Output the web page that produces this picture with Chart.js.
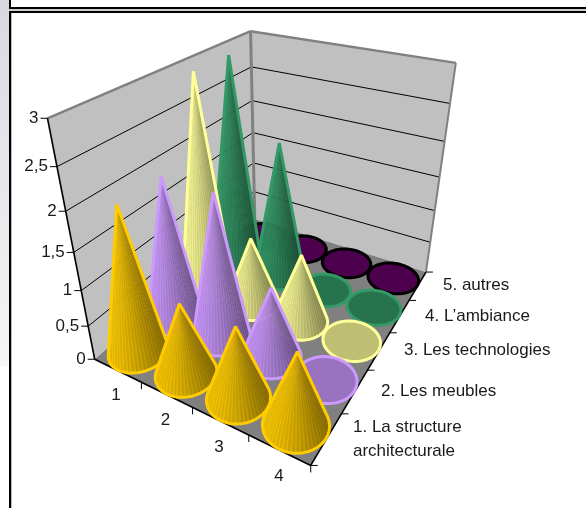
<!DOCTYPE html>
<html>
<head>
<meta charset="utf-8">
<style>
html,body{margin:0;padding:0;background:#fff;overflow:hidden}
canvas{display:block}
</style>
<script src="https://cdn.jsdelivr.net/npm/chart.js@4"></script>
</head>
<body>
<div style="width:586px;height:508px"><canvas id="c" width="586" height="508"></canvas></div>
<script>
const categories = ['1', '2', '3', '4'];
const seriesNames = ['1. La structure architecturale', '2. Les meubles', '3. Les technologies', '4. L’ambiance', '5. autres'];
const valueTicks = [0, 0.5, 1, 1.5, 2, 2.5, 3];
const structure = [2, 1, 1, 1];
const meubles = [2, 2, 1, 0];
const technologies = [3, 1, 1, 0];
const ambiance = [3, 2, 0, 0];
const autres = [0, 0, 0, 0];
const seriesValues = [structure, meubles, technologies, ambiance, autres];
const outlineColors = ['#FFCC00', '#CC99FF', '#FFFF99', '#339966', '#000000'];
const baseColors = ['#FFCC00', '#CC99FF', '#FFFF99', '#339966', '#660066'];

/* camera calibration: [u, v, w, px, py] read from the box corners */
const calib = [
  [0,0,0,94,359],[1,0,0,311,466],[1,1,0,426,271],[0,1,0,256,220],
  [0,0,1,48,119],[0,1,1,250,31],[1,1,1,457,63],
  [0,0,1/3,81,290],[0,0,2/3,66,211],[1,1,1/3,434,211],[1,1,2/3,444,141.7],
  [0,1,1/3,253,163],[0,1,2/3,252,100]
];
function solve(A,b){const n=b.length;for(let i=0;i<n;i++){let m=i;for(let r=i+1;r<n;r++)if(Math.abs(A[r][i])>Math.abs(A[m][i]))m=r;[A[i],A[m]]=[A[m],A[i]];[b[i],b[m]]=[b[m],b[i]];for(let r=i+1;r<n;r++){const f=A[r][i]/A[i][i];for(let c=i;c<n;c++)A[r][c]-=f*A[i][c];b[r]-=f*b[i];}}const x=new Array(n);for(let i=n-1;i>=0;i--){let s=b[i];for(let c=i+1;c<n;c++)s-=A[i][c]*x[c];x[i]=s/A[i][i];}return x;}
function calibrate(){const k=500,N=Array.from({length:11},()=>new Array(11).fill(0)),B=new Array(11).fill(0);
  const add=(row,y)=>{for(let i=0;i<11;i++){B[i]+=row[i]*y;for(let j=0;j<11;j++)N[i][j]+=row[i]*row[j];}};
  for(const [u,v,w,px,py] of calib){const x=px/k,y=py/k;
    add([u,v,w,1,0,0,0,0,-x*u,-x*v,-x*w],x);
    add([0,0,0,0,u,v,w,1,-y*u,-y*v,-y*w],y);}
  const p=solve(N,B);
  return (u,v,w)=>{const d=p[8]*u+p[9]*v+p[10]*w+1;return {x:k*(p[0]*u+p[1]*v+p[2]*w+p[3])/d,y:k*(p[4]*u+p[5]*v+p[6]*w+p[7])/d};};
}
const project = calibrate();

const FONT = '17px "Liberation Sans", Arial, sans-serif';
const LEFT_LABEL_GAP = 9;
const catLabelPos = [[116,395.5],[165.5,420],[219,447],[279,476]];
const seriesLabelPos = [[[353,427],[353,451]],[[381,391]],[[404,350]],[[425,316]],[[443,285]]];
const RADIUS = 0.49, FACETS = 96;

function rgb(hex,f){const n=parseInt(hex.slice(1),16);const c=[n>>16,(n>>8)&255,n&255].map(v=>Math.min(255,Math.round(v*f)));return `rgb(${c[0]},${c[1]},${c[2]})`;}
function poly(ctx,pts){ctx.beginPath();pts.forEach((p,i)=>i?ctx.lineTo(p.x,p.y):ctx.moveTo(p.x,p.y));ctx.closePath();}
function seg(ctx,a,b,color,w){ctx.strokeStyle=color;ctx.lineWidth=w;ctx.beginPath();ctx.moveTo(a.x,a.y);ctx.lineTo(b.x,b.y);ctx.stroke();}
function frac(s,v){const a=s.getPixelForValue(s.min),b=s.getPixelForValue(s.max);return (s.getPixelForValue(v)-a)/(b-a);}
function shade(t){return 0.93-0.40*Math.pow(t,1.5);}

function hull(points){const s=points.slice().sort((a,b)=>a.x-b.x||a.y-b.y);const cr=(o,a,b)=>(a.x-o.x)*(b.y-o.y)-(a.y-o.y)*(b.x-o.x);const lo=[],up=[];
  for(const p of s){while(lo.length>1&&cr(lo[lo.length-2],lo[lo.length-1],p)<=0)lo.pop();lo.push(p);}
  for(const p of s.slice().reverse()){while(up.length>1&&cr(up[up.length-2],up[up.length-1],p)<=0)up.pop();up.push(p);}
  return lo.slice(0,-1).concat(up.slice(0,-1));}

const cone3d = {
  id:'cone3d',
  beforeDraw(chart){
    const ctx=chart.ctx,W=chart.width,H=chart.height;
    ctx.save();
    ctx.fillStyle='#fff';ctx.fillRect(0,0,W,H);
    const g=ctx.createLinearGradient(0,0,0,366);g.addColorStop(0,'#D8D8E0');g.addColorStop(1,'#F6F6F7');
    ctx.fillStyle=g;ctx.fillRect(0,0,9,366);
    ctx.fillStyle='#000';ctx.fillRect(9,0,2,H);
    ctx.fillStyle='#bbb';ctx.fillRect(11,12,1,H-12);
    ctx.fillStyle='#000';ctx.fillRect(9,7,W-9,2);
    ctx.fillStyle='#ccc';ctx.fillRect(9,9,W-9,2);
    ctx.fillStyle='#000';ctx.fillRect(9,11,W-9,2);
    ctx.restore();
  },
  afterDatasetsDraw(chart){
    const ctx=chart.ctx,sx=chart.scales.x,sy=chart.scales.y,sz=chart.scales.depth;
    const P=(cat,ser,val)=>project(frac(sx,cat),frac(sz,ser),frac(sy,val));
    const nc=categories.length,ns=seriesNames.length,top=valueTicks[valueTicks.length-1];
    const A=P(0,0,0),B=P(nc,0,0),C=P(nc,ns,0),D=P(0,ns,0),A3=P(0,0,top),C3=P(nc,ns,top),D3=P(0,ns,top);
    ctx.save();ctx.lineCap='butt';ctx.lineJoin='miter';
    /* walls + floor */
    ctx.fillStyle='#C0C0C0';poly(ctx,[A,D,D3,A3]);ctx.fill();poly(ctx,[D,C,C3,D3]);ctx.fill();
    ctx.fillStyle='#808080';poly(ctx,[A,B,C,D]);ctx.fill();
    /* gridlines */
    for(const t of valueTicks){ if(t===0||t===top)continue;
      const a=P(0,0,t),d=P(0,ns,t),c=P(nc,ns,t);
      seg(ctx,a,d,'#000',1);seg(ctx,d,c,'#000',1);
    }
    /* wall borders */
    seg(ctx,D,D3,'#808080',3);seg(ctx,C,C3,'#808080',2);
    seg(ctx,A3,D3,'#808080',2.5);seg(ctx,D3,C3,'#808080',2.5);
    /* axes */
    seg(ctx,A,A3,'#000',1.6);seg(ctx,A,B,'#000',1.6);seg(ctx,B,C,'#000',1.6);
    ctx.font=FONT;ctx.textBaseline='middle';
    ctx.fillStyle='#1a1a1a';
    ctx.textAlign='right';
    for(const t of valueTicks){const p=P(0,0,t);seg(ctx,{x:p.x-7,y:p.y},p,'#000',1);
      ctx.fillText(String(t).replace('.',','),p.x-LEFT_LABEL_GAP,p.y);}
    for(let i=1;i<=nc;i++){const p=P(i,0,0);seg(ctx,p,{x:p.x,y:p.y+7},'#000',1);}
    for(let i=0;i<=ns;i++){const p=P(nc,i,0);seg(ctx,p,{x:p.x+7,y:p.y},'#000',1);}
    ctx.textAlign='center';
    categories.forEach((c,i)=>ctx.fillText(c,catLabelPos[i][0],catLabelPos[i][1]));
    ctx.textAlign='left';
    seriesLabelPos.forEach((lines,i)=>{
      const txt=seriesNames[i];
      if(lines.length===2){const cut=txt.lastIndexOf(' ');ctx.fillText(txt.slice(0,cut),lines[0][0],lines[0][1]);ctx.fillText(txt.slice(cut+1),lines[1][0],lines[1][1]);}
      else ctx.fillText(txt,lines[0][0],lines[0][1]);
    });
    /* cones, back row first, later categories in front */
    for(let s=ns-1;s>=0;s--){
      const ds=chart.data.datasets[s];
      ds.data.forEach((d)=>{
        const ser=s+0.5,cat=d.x,val=d.y,base=[];
        for(let k=0;k<FACETS;k++){const a=k/FACETS*Math.PI*2;base.push(P(cat+RADIUS*Math.cos(a),ser+RADIUS*Math.sin(a),0));}
        const col=baseColors[s],line=outlineColors[s];
        ctx.lineJoin='round';
        if(val===0){
          ctx.fillStyle=rgb(col,0.75);poly(ctx,base);ctx.fill();
          ctx.strokeStyle=line;ctx.lineWidth=3;ctx.stroke();
          return;
        }
        const apex=P(cat,ser,val);
        const xs=base.map(p=>p.x),mn=Math.min(...xs),mx=Math.max(...xs);
        const h=hull(base.concat([apex]));
        /* mostly opaque underlay, so only a faint trace of what is behind shows */
        const under=ctx.createLinearGradient(mn,0,mx,0);
        for(const t of [0,0.25,0.5,0.75,1])under.addColorStop(t,rgb(col,shade(t)));
        ctx.save();ctx.globalAlpha=0.8;ctx.fillStyle=under;poly(ctx,h);ctx.fill();ctx.restore();
        let area=0;base.forEach((p,i)=>{const q=base[(i+1)%FACETS];area+=p.x*q.y-q.x*p.y;});
        for(let k=0;k<FACETS;k++){
          const p=base[k],q=base[(k+1)%FACETS];
          const cross=(p.x-apex.x)*(q.y-apex.y)-(p.y-apex.y)*(q.x-apex.x);
          if(cross*area<=0)continue;
          const t=((p.x+q.x)/2-mn)/(mx-mn);
          ctx.fillStyle=rgb(col,shade(t)+(k%2?0.035:-0.035));
          poly(ctx,[apex,p,q]);ctx.fill();
        }
        ctx.strokeStyle=line;ctx.lineWidth=3;ctx.lineJoin='bevel';poly(ctx,h);ctx.stroke();
      });
    }
    ctx.restore();
  }
};

const datasets = seriesNames.map((name,s)=>({
  label:name,
  data:categories.map((c,i)=>({x:i+0.5,y:seriesValues[s][i]})),
  pointRadius:0,showLine:false,backgroundColor:baseColors[s],borderColor:outlineColors[s]
}));

new Chart(document.getElementById('c'),{
  type:'scatter',
  data:{datasets},
  plugins:[cone3d],
  options:{
    responsive:false,animation:false,
    layout:{padding:0},
    plugins:{legend:{display:false},tooltip:{enabled:false},title:{display:false}},
    scales:{
      x:{type:'linear',min:0,max:categories.length,display:false},
      y:{type:'linear',min:0,max:valueTicks[valueTicks.length-1],display:false},
      depth:{type:'linear',axis:'y',min:0,max:seriesNames.length,display:false}
    }
  }
});
</script>
</body>
</html>
